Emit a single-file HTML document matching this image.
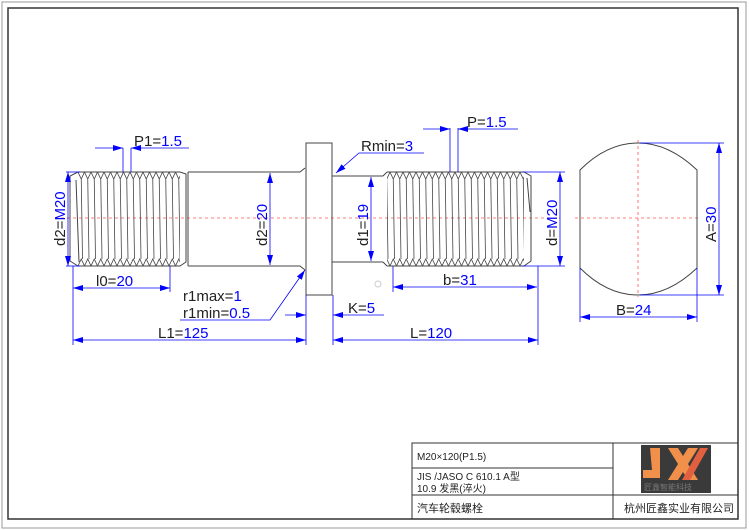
<!DOCTYPE html>
<html><head><meta charset="utf-8"><style>
body{margin:0;background:#fff}
svg{display:block}
text{font-family:"Liberation Sans","Noto Sans CJK SC",sans-serif}
</style></head><body>
<svg width="749" height="530" viewBox="0 0 749 530" xmlns="http://www.w3.org/2000/svg">
<defs>
<pattern id="th" patternUnits="userSpaceOnUse" x="0" y="0" width="6.5" height="530">
<path d="M0,172 L3.25,179 L6.5,172 M0,266 L3.25,259 L6.5,266 M3.25,179 L4.5,259" stroke="#444" stroke-width="0.8" fill="none"/>
</pattern>
<marker id="a" viewBox="0 0 10 6" refX="10" refY="3" markerWidth="10" markerHeight="6" orient="auto-start-reverse" markerUnits="userSpaceOnUse"><path d="M0,0 L10,3 L0,6z" fill="#0000ff"/></marker>
</defs>
<rect x="2" y="2" width="744" height="526" fill="none" stroke="#999" stroke-width="1"/>
<rect x="8" y="8" width="730" height="511" fill="none" stroke="#333" stroke-width="1.5"/>
<line x1="55" y1="218" x2="560" y2="218" stroke="#f55" stroke-dasharray="3,3" stroke-width="0.8"/>
<line x1="575" y1="218" x2="700" y2="218" stroke="#f55" stroke-dasharray="3,3" stroke-width="0.8"/>
<line x1="638" y1="140" x2="638" y2="297" stroke="#f55" stroke-dasharray="3,3" stroke-width="0.8"/>
<g stroke="#444" stroke-width="1" fill="none">
<rect x="78" y="170" width="102" height="98" fill="url(#th)" stroke="none"/>
<path d="M78,172 L70,176 L70,261 L78,266 M78,172 L180,172 L186,174 L186,262 L180,266 L78,266"/>
<path d="M76,180 L79,262" />
<path d="M188,172 L300,172 L305,168 M188,266 L300,266 L305,270 M188,172 L188,266"/>
<rect x="306" y="143" width="26" height="152"/>
<path d="M332,176 L383,176 M332,262 L383,262 M383,176 L387,172 M383,262 L387,266"/>
<rect x="387" y="170" width="137" height="98" fill="url(#th)" stroke="none"/>
<path d="M387,172 L524,172 L531,176 L531,261 L524,266 L387,266"/>
<path d="M527,178 L530,212"/>
<path d="M580,170 C600,150 620,143 638,143 C656,143 676,150 697,170 L697,268 C676,288 656,295 638,295 C620,295 600,288 580,268 Z"/>
</g>
<circle cx="378" cy="284" r="3" fill="none" stroke="#ccc"/>
<g stroke="#0000ff" stroke-width="0.8" fill="none">
<line x1="68" y1="172" x2="68" y2="266" marker-start="url(#a)" marker-end="url(#a)"/>
<line x1="66" y1="172" x2="80" y2="172"/><line x1="66" y1="266" x2="80" y2="266"/>
<line x1="270" y1="173" x2="270" y2="265" marker-start="url(#a)" marker-end="url(#a)"/>
<line x1="371" y1="177" x2="371" y2="261" marker-start="url(#a)" marker-end="url(#a)"/>
<line x1="560" y1="172" x2="560" y2="266" marker-start="url(#a)" marker-end="url(#a)"/>
<line x1="522" y1="172" x2="565" y2="172"/><line x1="522" y1="266" x2="565" y2="266"/>
<line x1="719" y1="143" x2="719" y2="295" marker-start="url(#a)" marker-end="url(#a)"/>
<line x1="640" y1="143" x2="724" y2="143"/><line x1="640" y1="295" x2="724" y2="295"/>
<line x1="123" y1="148" x2="123" y2="172"/><line x1="131" y1="148" x2="131" y2="172"/>
<line x1="95" y1="148" x2="123" y2="148" marker-end="url(#a)"/>
<line x1="189" y1="148" x2="131" y2="148" marker-end="url(#a)"/>
<line x1="450" y1="128" x2="450" y2="172"/><line x1="458" y1="128" x2="458" y2="172"/>
<line x1="423" y1="129" x2="450" y2="129" marker-end="url(#a)"/>
<line x1="518" y1="129" x2="458" y2="129" marker-end="url(#a)"/>
<line x1="73" y1="266" x2="73" y2="345"/><line x1="170" y1="266" x2="170" y2="292"/>
<line x1="73" y1="288" x2="170" y2="288" marker-start="url(#a)" marker-end="url(#a)"/>
<line x1="306" y1="295" x2="306" y2="345"/>
<line x1="73" y1="340" x2="306" y2="340" marker-start="url(#a)" marker-end="url(#a)"/>
<line x1="333" y1="295" x2="333" y2="345"/><line x1="538" y1="266" x2="538" y2="345"/>
<line x1="333" y1="340" x2="538" y2="340" marker-start="url(#a)" marker-end="url(#a)"/>
<line x1="285" y1="315" x2="306" y2="315" marker-end="url(#a)"/>
<line x1="384" y1="315" x2="333" y2="315" marker-end="url(#a)"/>
<line x1="393" y1="266" x2="393" y2="292"/>
<line x1="393" y1="287" x2="537" y2="287" marker-start="url(#a)" marker-end="url(#a)"/>
<line x1="580" y1="268" x2="580" y2="322"/><line x1="697" y1="268" x2="697" y2="322"/>
<line x1="580" y1="317" x2="697" y2="317" marker-start="url(#a)" marker-end="url(#a)"/>
<polyline points="424,153 359,153 336,173" marker-end="url(#a)"/>
<polyline points="180,320 270,320 305,270" marker-end="url(#a)"/>
</g>
<g font-size="15" fill="#222">
<text x="134" y="146">P1=<tspan fill="#00f">1.5</tspan></text>
<text x="467" y="127">P=<tspan fill="#00f">1.5</tspan></text>
<text x="361" y="151">Rmin=<tspan fill="#00f">3</tspan></text>
<text x="96" y="286">l0=<tspan fill="#00f">20</tspan></text>
<text x="158" y="338">L1=<tspan fill="#00f">125</tspan></text>
<text x="183" y="301">r1max=<tspan fill="#00f">1</tspan></text>
<text x="183" y="318">r1min=<tspan fill="#00f">0.5</tspan></text>
<text x="348" y="313">K=<tspan fill="#00f">5</tspan></text>
<text x="410" y="338">L=<tspan fill="#00f">120</tspan></text>
<text x="443" y="285">b=<tspan fill="#00f">31</tspan></text>
<text x="616" y="315">B=<tspan fill="#00f">24</tspan></text>
<text transform="translate(65,246) rotate(-90)">d2=<tspan fill="#00f">M20</tspan></text>
<text transform="translate(267,246) rotate(-90)">d2=<tspan fill="#00f">20</tspan></text>
<text transform="translate(368,246) rotate(-90)">d1=<tspan fill="#00f">19</tspan></text>
<text transform="translate(557,246) rotate(-90)">d=<tspan fill="#00f">M20</tspan></text>
<text transform="translate(716,242) rotate(-90)">A=<tspan fill="#00f">30</tspan></text>
</g>
<g stroke="#333" stroke-width="1" fill="none">
<rect x="412" y="443" width="326" height="76"/>
<line x1="613" y1="443" x2="613" y2="519"/>
<line x1="412" y1="468" x2="613" y2="468"/>
<line x1="412" y1="495" x2="738" y2="495"/>
</g>
<g font-size="10" fill="#222">
<text x="417" y="460">M20×120(P1.5)</text>
<text x="417" y="480">JIS /JASO C 610.1 A型</text>
<text x="417" y="492">10.9 发黑(淬火)</text>
<text x="417" y="512" font-size="11">汽车轮毂螺栓</text>
<text x="624" y="512" font-size="11">杭州匠鑫实业有限公司</text>
</g>
<rect x="641" y="445" width="70" height="48" fill="#3a3a3a"/>
<path d="M650,448 L660,448 L660,478 L643,478 L643,470 L652,470 Z" fill="#f0904a"/>
<path d="M668,448 L678,448 L698,480 L688,480 Z M688,448 L698,448 L678,480 L668,480 Z" fill="#f0904a"/>
<path d="M700,448 L708,448 L690,480 L682,480 Z" fill="#e06040"/>
<text x="644" y="490" font-size="8" fill="#777" font-family="Noto Sans CJK SC,sans-serif">匠鑫智能科技</text>
</svg>
</body></html>
